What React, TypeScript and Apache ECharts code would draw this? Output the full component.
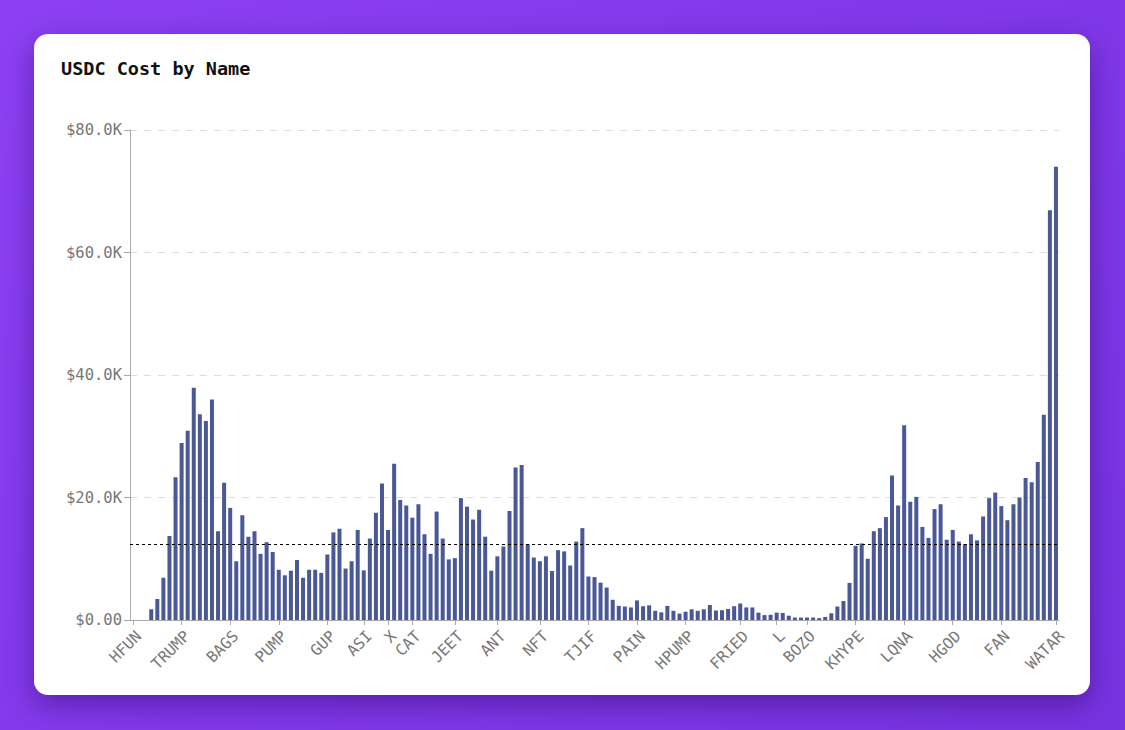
import React, { useEffect, useRef } from "react";
import * as echarts from "echarts";

// USDC cost per name, in thousands of dollars, in axis order
const VALUES_K: number[] = [
  0, 0, 0, 1.74, 3.43, 6.9, 13.7, 23.3, 28.9, 30.9,
  37.9, 33.6, 32.5, 36.0, 14.5, 22.4, 18.3, 9.6, 17.1, 13.6,
  14.5, 10.8, 12.7, 11.1, 8.2, 7.3, 8.05, 9.8, 6.9, 8.2,
  8.2, 7.7, 10.7, 14.3, 14.9, 8.4, 9.6, 14.7, 8.1, 13.3,
  17.5, 22.3, 14.7, 25.5, 19.6, 18.7, 16.7, 18.9, 14.0, 10.8,
  17.7, 13.3, 9.9, 10.1, 19.9, 18.5, 16.4, 18.0, 13.6, 8.05,
  10.4, 12.0, 17.8, 24.9, 25.3, 12.35, 10.2, 9.6, 10.4, 8.0,
  11.4, 11.2, 8.9, 12.8, 15.0, 7.1, 7.0, 6.1, 5.3, 3.3,
  2.3, 2.2, 2.05, 3.2, 2.25, 2.4, 1.5, 1.25, 2.3, 1.5,
  1.05, 1.35, 1.75, 1.5, 1.75, 2.45, 1.55, 1.6, 1.8, 2.25,
  2.7, 2.05, 2.05, 1.2, 0.8, 0.85, 1.2, 1.15, 0.7, 0.4,
  0.4, 0.4, 0.4, 0.3, 0.5, 1.1, 2.2, 3.1, 6.05, 12.1,
  12.5, 10.0, 14.5, 15.0, 16.8, 23.6, 18.7, 31.8, 19.3, 20.1,
  15.2, 13.4, 18.1, 18.9, 13.1, 14.7, 12.8, 12.4, 14.0, 13.0,
  16.9, 19.9, 20.8, 18.6, 16.3, 18.9, 20.0, 23.2, 22.5, 25.8,
  33.5, 66.9, 74.0,
];

// Names that are labelled on the x axis, and their positions in the category order
const TICK_LABELS: string[] = [
  "HFUN", "TRUMP", "BAGS", "PUMP", "GUP", "ASI", "X", "CAT", "JEET", "ANT", "NFT",
  "TJIF", "PAIN", "HPUMP", "FRIED", "L", "BOZO", "KHYPE", "LQNA", "HGOD", "FAN", "WATAR",
];
const TICK_INDEX: number[] = [
  0, 8, 16, 24, 32, 38, 42, 46, 53, 60, 67,
  75, 83, 91, 100, 106, 111, 119, 127, 135, 143, 152,
];

const Y_MAX = 80000;
const Y_STEP = 20000;

const CATEGORIES: string[] = VALUES_K.map((_, i) => {
  const k = TICK_INDEX.indexOf(i);
  return k >= 0 ? TICK_LABELS[k] : "";
});
const VALUES: number[] = VALUES_K.map((v) => Math.round(v * 1000));

const MONO = '"DejaVu Sans Mono", "Liberation Mono", monospace';

function fmtY(v: number): string {
  if (v === 0) return "$0.00";
  return "$" + (v / 1000).toFixed(1) + "K";
}

function Chart() {
  const ref = useRef<HTMLDivElement>(null);
  useEffect(() => {
    if (!ref.current) return;
    const chart = echarts.init(ref.current, undefined, { renderer: "svg" });
    const shown = (i: number) => TICK_INDEX.indexOf(i) >= 0;
    chart.setOption({
      animation: false,
      title: {
        text: "USDC Cost by Name",
        left: 27,
        top: 25,
        padding: 0,
        textStyle: {
          fontFamily: MONO,
          fontSize: 18.5,
          fontWeight: "bold",
          color: "#111",
        },
      },
      grid: { left: 96, right: 31, top: 96, bottom: 75, containLabel: false },
      xAxis: {
        type: "category",
        data: CATEGORIES,
        boundaryGap: true,
        axisLine: { show: true, lineStyle: { color: "#aaa", width: 1 } },
        axisTick: {
          show: true,
          alignWithLabel: true,
          interval: (i: number) => shown(i),
          length: 5,
          lineStyle: { color: "#aaa" },
        },
        axisLabel: {
          interval: (i: number) => shown(i),
          rotate: 45,
          margin: 8,
          verticalAlign: "top",
          fontFamily: MONO,
          fontSize: 15.5,
          color: "#777",
        },
        splitLine: { show: false },
      },
      yAxis: {
        type: "value",
        min: 0,
        max: Y_MAX,
        interval: Y_STEP,
        axisLine: { show: true, lineStyle: { color: "#aaa", width: 1 } },
        axisTick: { show: true, length: 6, lineStyle: { color: "#aaa" } },
        axisLabel: {
          formatter: fmtY,
          margin: 8,
          fontFamily: MONO,
          fontSize: 15.5,
          color: "#777",
        },
        splitLine: {
          show: true,
          lineStyle: { color: "#ddd", width: 1, type: [7, 7] },
        },
      },
      series: [
        {
          type: "bar",
          data: VALUES,
          barWidth: 4,
          itemStyle: { color: "#4a5896" },
          markLine: {
            silent: true,
            symbol: "none",
            label: { show: false },
            lineStyle: { color: "#000", width: 1, type: [3, 3] },
            data: [{ type: "average" }],
          },
        },
      ],
    });
    return () => chart.dispose();
  }, []);
  return <div ref={ref} style={{ width: 1056, height: 661 }} />;
}

export default function App() {
  return (
    <div
      style={{
        position: "fixed",
        left: 0,
        top: 0,
        width: 1125,
        height: 730,
        background: "linear-gradient(135deg, #8c40f2 0%, #8238ea 50%, #7733e0 100%)",
        overflow: "hidden",
      }}
    >
      <div
        style={{
          position: "absolute",
          left: 34,
          top: 34,
          width: 1056,
          height: 661,
          background: "#fff",
          borderRadius: 14,
          boxShadow: "0 10px 28px rgba(40, 5, 100, 0.45)",
          overflow: "hidden",
        }}
      >
        <Chart />
      </div>
    </div>
  );
}
